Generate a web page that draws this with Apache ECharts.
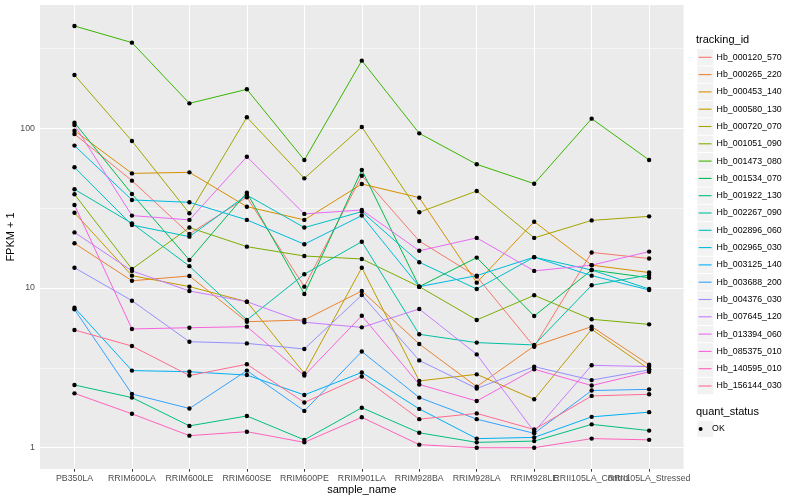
<!DOCTYPE html>
<html><head><meta charset="utf-8">
<script src="https://cdn.jsdelivr.net/npm/echarts@6/dist/echarts.min.js"></script>
<style>html,body{margin:0;padding:0;background:#fff}#c{width:800px;height:500px}</style>
</head><body><div id="c"></div>
<script>
const categories = ['PB350LA','RRIM600LA','RRIM600LE','RRIM600SE','RRIM600PE','RRIM901LA','RRIM928BA','RRIM928LA','RRIM928LE','RRII105LA_Control','RRII105LA_Stressed'];
const trackingIds = ['Hb_000120_570','Hb_000265_220','Hb_000453_140','Hb_000580_130','Hb_000720_070','Hb_001051_090','Hb_001473_080','Hb_001534_070','Hb_001922_130','Hb_002267_090','Hb_002896_060','Hb_002965_030','Hb_003125_140','Hb_003688_200','Hb_004376_030','Hb_007645_120','Hb_013394_060','Hb_085375_010','Hb_140595_010','Hb_156144_030'];
const colors = ['#F8766D','#EA8331','#D89000','#C09B00','#A3A500','#7CAE00','#39B600','#00BB4E','#00BF7D','#00C1A3','#00BFC4','#00BAE0','#00B0F6','#35A2FF','#9590FF','#C77CFF','#E76BF3','#FA62DB','#FF62BC','#FF6C91'];
const hb000120_570 = [92.1, 47.0, 21.8, 37.0, 10.2, 50.5, 19.7, 11.8, 4.29, 16.7, 15.3];
const hb000265_220 = [19.05, 11.1, 11.9, 6.15, 6.31, 9.58, 4.46, 2.41, 4.33, 5.73, 3.31];
const hb000453_140 = [96.7, 52.2, 53.0, 32.3, 26.7, 44.8, 36.8, 10.8, 26.0, 13.9, 12.5];
const hb000580_130 = [29.6, 11.95, 10.2, 8.21, 2.92, 13.4, 2.62, 2.88, 2.01, 5.51, 3.10];
const hb000720_070 = [215.7, 83.3, 29.35, 117.2, 48.6, 101.9, 29.8, 40.5, 20.6, 26.5, 28.1];
const hb001051_090 = [38.6, 13.15, 23.9, 18.15, 15.86, 15.2, 10.2, 6.31, 9.0, 6.37, 5.92];
const hb001473_080 = [437, 343.9, 143.3, 175.4, 63.3, 265.2, 93.0, 59.5, 45.0, 114.9, 63.3];
const hb001534_070 = [108.5, 38.8, 14.97, 39.5, 9.17, 54.8, 10.2, 15.5, 6.68, 12.96, 11.6];
const hb001922_130 = [2.47, 2.06, 1.37, 1.58, 1.12, 1.78, 1.24, 1.08, 1.10, 1.40, 1.28];
const hb002267_090 = [41.5, 25.4, 13.7, 6.31, 12.2, 19.5, 5.13, 4.55, 4.40, 10.4, 12.06];
const hb002896_060 = [57.0, 24.8, 20.97, 38.2, 23.9, 30.06, 14.5, 9.86, 15.6, 12.96, 9.86];
const hb002965_030 = [77.9, 35.6, 34.4, 26.7, 18.8, 28.4, 10.2, 11.95, 15.6, 11.95, 9.72];
const hb003125_140 = [7.53, 3.04, 2.99, 2.85, 2.14, 2.96, 1.75, 1.14, 1.16, 1.56, 1.67];
const hb003688_200 = [7.35, 2.17, 1.76, 3.04, 1.70, 4.0, 2.06, 1.51, 1.23, 2.28, 2.32];
const hb004376_030 = [13.4, 8.33, 4.61, 4.50, 4.15, 9.04, 3.52, 2.35, 3.22, 2.65, 3.07];
const hb007645_120 = [22.3, 12.8, 9.58, 8.21, 6.10, 5.67, 7.39, 3.84, 1.26, 3.28, 3.22];
const hb013394_060 = [104.9, 28.4, 26.7, 66.4, 29.1, 30.8, 17.1, 20.6, 12.8, 13.9, 16.9];
const hb085375_010 = [33.1, 5.54, 5.64, 5.73, 2.83, 6.71, 2.49, 1.96, 3.10, 2.45, 2.99];
const hb140595_010 = [2.19, 1.63, 1.19, 1.26, 1.08, 1.55, 1.045, 1.0, 1.0, 1.14, 1.12];
const hb156144_030 = [5.46, 4.33, 2.83, 3.33, 1.92, 2.79, 1.51, 1.64, 1.30, 2.11, 2.16];
const seriesValues = [hb000120_570, hb000265_220, hb000453_140, hb000580_130, hb000720_070, hb001051_090, hb001473_080, hb001534_070, hb001922_130, hb002267_090, hb002896_060, hb002965_030, hb003125_140, hb003688_200, hb004376_030, hb007645_120, hb013394_060, hb085375_010, hb140595_010, hb156144_030];
const quantStatus = ['OK'];
const yTicks = [1, 10, 100];
const yMinorBreaks = [3.162, 31.62, 316.2];

const FONT = '"Liberation Sans", Arial, Helvetica, sans-serif';
const catIdx = categories.map((c, i) => i);
const chart = echarts.init(document.getElementById('c'), null, {renderer: 'canvas'});

const lineSeries = trackingIds.map((id, k) => ({
  name: id, type: 'line', data: seriesValues[k].map((v, i) => [i, v]),
  showSymbol: false, symbol: 'none', color: colors[k],
  lineStyle: {width: 1, color: colors[k]}, z: 3, animation: false,
  emphasis: {disabled: true}, silent: true
}));
const pointSeries = {
  name: quantStatus[0], type: 'scatter',
  data: [].concat(...seriesValues.map(vals => vals.map((v, i) => [i, v]))),
  symbol: 'circle', symbolSize: 4.4, itemStyle: {color: '#000', borderWidth: 0, opacity: 1}, z: 4,
  animation: false, silent: true, emphasis: {disabled: true}
};
function gridLineSeries(items, width) {
  return {
    type: 'line', data: [], z: 1, silent: true, color: '#FFFFFF',
    markLine: {
      z: 1, zlevel: 0,
      silent: true, symbol: ['none', 'none'], animation: false, label: {show: false},
      lineStyle: {color: '#FFFFFF', width: width, type: 'solid', opacity: 1},
      emphasis: {disabled: true},
      data: items
    }
  };
}
const majorGridSeries = gridLineSeries([].concat(catIdx.map(i => ({xAxis: i})), yTicks.map(v => ({yAxis: v}))), 1.1);
const minorGridSeries = gridLineSeries(yMinorBreaks.map(v => ({yAxis: v})), 0.55);

const legTop = 48.65, legStep = 17.3;
const keyBg = trackingIds.map((id, k) => ({
  type: 'rect', shape: {x: 697.3, y: legTop + k * legStep + 0.5, width: 16, height: 16.3},
  style: {fill: '#F2F2F2'}, z: 0, silent: true
}));
keyBg.push({type: 'rect', shape: {x: 697.3, y: 420.8, width: 16, height: 16.3}, style: {fill: '#F2F2F2'}, z: 0, silent: true});

const labelStyle = {color: '#4D4D4D', fontSize: 8.8, margin: 5, hideOverlap: false, showMinLabel: true, showMaxLabel: true, fontFamily: FONT, formatter: v => categories[Math.round(v)]};
// the x labels are split over three overlaid axes so that the two overlapping
// labels at the right end are both kept, as in the reference
const labelGroups = [catIdx.slice(0, 9), catIdx.slice(9, 10), catIdx.slice(10)];
const xAxes = labelGroups.map((vals, g) => ({
  type: 'value', min: -0.6, max: 10.6, position: 'bottom', offset: 0,
  axisLine: {show: false}, splitLine: {show: false}, minorSplitLine: {show: false},
  axisTick: {show: true, customValues: vals, length: 2.7, lineStyle: {color: '#333333', width: 1}},
  axisLabel: Object.assign({customValues: vals}, labelStyle),
  name: g === 0 ? 'sample_name' : '', nameLocation: 'middle', nameGap: 15.2, nameMoveOverlap: false,
  nameTextStyle: {fontSize: 11, color: '#000', fontFamily: FONT}
}));

chart.setOption({
  backgroundColor: '#FFFFFF',
  animation: false,
  textStyle: {fontFamily: FONT},
  grid: {left: 40, top: 5, right: 116.4, bottom: 31, show: true, backgroundColor: '#EBEBEB', borderWidth: 0, containLabel: false, outerBoundsMode: 'none'},
  title: [
    {text: 'tracking_id', left: 696, top: 34.5, padding: 0, textStyle: {fontSize: 11, fontWeight: 'normal', color: '#000', fontFamily: FONT}},
    {text: 'quant_status', left: 696, top: 406, padding: 0, textStyle: {fontSize: 11, fontWeight: 'normal', color: '#000', fontFamily: FONT}}
  ],
  legend: [
    {data: trackingIds, orient: 'vertical', left: 698.6, top: legTop, padding: 0, itemGap: 0,
     icon: 'rect', itemWidth: 13, itemHeight: 1.1, selectedMode: false,
     textStyle: {fontSize: 8.8, color: '#000', lineHeight: legStep, fontFamily: FONT},
     itemStyle: {borderWidth: 0}},
    {data: quantStatus, orient: 'vertical', left: 698.6, top: 420.3, padding: 0, itemGap: 0,
     icon: 'circle', itemWidth: 13, itemHeight: 4, selectedMode: false,
     textStyle: {fontSize: 8.8, color: '#000', lineHeight: legStep, fontFamily: FONT},
     itemStyle: {borderWidth: 0, opacity: 1}}
  ],
  graphic: keyBg,
  xAxis: xAxes,
  yAxis: {
    type: 'log', logBase: 10, min: 0.7357, max: 591.6,
    axisLine: {show: false}, splitLine: {show: false}, minorSplitLine: {show: false},
    axisTick: {show: true, customValues: yTicks, length: 2.7, lineStyle: {color: '#333333', width: 1}},
    axisLabel: {customValues: yTicks, color: '#4D4D4D', fontSize: 8.8, margin: 5, showMinLabel: true, showMaxLabel: true, fontFamily: FONT},
    name: 'FPKM + 1', nameLocation: 'middle', nameGap: 23.5, nameMoveOverlap: false,
    nameTextStyle: {fontSize: 11, color: '#000', fontFamily: FONT}
  },
  series: [minorGridSeries, majorGridSeries].concat(lineSeries, [pointSeries])
});
</script></body></html>
